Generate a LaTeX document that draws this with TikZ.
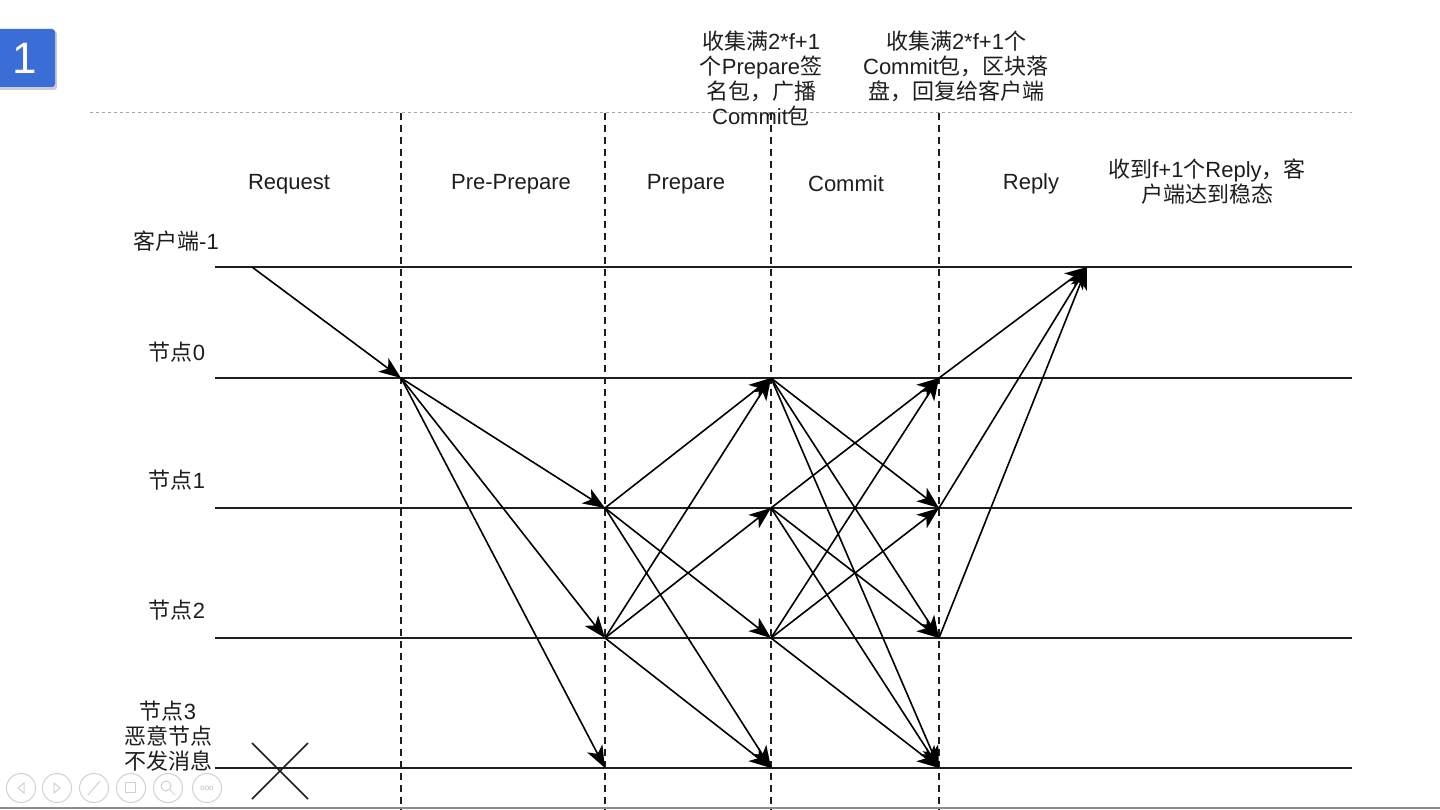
\documentclass[tikz,border=0pt]{standalone}
\usepackage{fontspec}
\setmainfont{Liberation Sans}
\newfontfamily\cjk{Noto Sans CJK SC}
\usetikzlibrary{arrows.meta,calc}
\definecolor{badge}{RGB}{58,110,214}
\definecolor{ink}{RGB}{30,30,30}
\begin{document}
\begin{tikzpicture}[x=1pt,y=-1pt,
  lbl/.style={font=\fontsize{22}{25}\selectfont, text=ink, align=center, inner sep=0pt},
  tline/.style={line width=2pt, draw=ink},
  vdash/.style={line width=1.8pt, draw=ink, dash pattern=on 7pt off 5pt},
  msg/.style={line width=1.6pt, draw=black, -{Stealth[length=22pt,width=17pt,inset=6pt]}},
  tool/.style={draw=black!18, line width=1pt},
]
\useasboundingbox (0,0) rectangle (1440,810);
\fill[white] (0,0) rectangle (1440,810);

% badge
\fill[black!20, rounded corners=3pt] (-5,31) rectangle (57,90);
\fill[badge, rounded corners=3pt] (-5,29) rectangle (55,87);
\node[text=white, font=\fontsize{44}{44}\selectfont, inner sep=0pt] (badgetxt) at (25,58) {1};

% top gray dotted line
\coordinate (gtl) at (90,113);
\coordinate (gtr) at (1352,113);
\draw[black!35, line width=1pt, dash pattern=on 3pt off 3pt] (gtl) -- (gtr);

% vertical dashed lines
\foreach \x/\n in {401/a,605/b,771/c,939/d}{
  \coordinate (v\n t) at (\x,113);
  \coordinate (v\n b) at (\x,810);
  \draw[vdash] (v\n t) -- (v\n b);
}

% horizontal timelines
\foreach \y/\n in {267/c,378/0,508/1,638/2,768/3}{
  \coordinate (h\n s) at (215,\y);
  \coordinate (h\n e) at (1352,\y);
  \draw[tline] (h\n s) -- (h\n e);
}

% phase labels
\node[lbl] (pReq) at (289,184) {Request};
\node[lbl] (pPre) at (511,184) {Pre-Prepare};
\node[lbl] (pPrep) at (686,184) {Prepare};
\node[lbl] (pCom) at (846,184) {Commit};
\node[lbl] (pRep) at (1031,184) {Reply};
\node[lbl] (note3) at (1207,182) {{\cjk 收到}f+1{\cjk 个}Reply{\cjk ，客}\\{\cjk 户端达到稳态}};
\node[lbl] (note1) at (761,78) {{\cjk 收集满}2*f+1\\{\cjk 个}Prepare{\cjk 签}\\{\cjk 名包，广播}\\Commit{\cjk 包}};
\node[lbl] (note2) at (956,66) {{\cjk 收集满}2*f+1{\cjk 个}\\Commit{\cjk 包，区块落}\\{\cjk 盘，回复给客户端}};

% row labels
\node[lbl] (lc) at (176,241) {{\cjk 客户端}-1};
\node[lbl] (l0) at (177,352) {{\cjk 节点}0};
\node[lbl] (l1) at (177,480) {{\cjk 节点}1};
\node[lbl] (l2) at (177,610) {{\cjk 节点}2};
\node[lbl] (l3) at (168,736) {{\cjk 节点}3\\{\cjk 恶意节点}\\{\cjk 不发消息}};

% event points
\coordinate (cs) at (252,267);
\coordinate (cr) at (1087,267);
\coordinate (n01) at (401,378);
\coordinate (n12) at (605,508);
\coordinate (n22) at (605,638);
\coordinate (n32) at (605,768);
\coordinate (n03) at (771,378);
\coordinate (n13) at (771,508);
\coordinate (n23) at (771,638);
\coordinate (n33) at (771,768);
\coordinate (n04) at (939,378);
\coordinate (n14) at (939,508);
\coordinate (n24) at (939,638);
\coordinate (n34) at (939,768);

% request
\draw[msg] (cs) -- (n01);
% pre-prepare
\draw[msg] (n01) -- (n12);
\draw[msg] (n01) -- (n22);
\draw[msg] (n01) -- (n32);
% prepare
\draw[msg] (n12) -- (n03);
\draw[msg] (n12) -- (n23);
\draw[msg] (n12) -- (n33);
\draw[msg] (n22) -- (n03);
\draw[msg] (n22) -- (n13);
\draw[msg] (n22) -- (n33);
% commit
\draw[msg] (n03) -- (n14);
\draw[msg] (n03) -- (n24);
\draw[msg] (n03) -- (n34);
\draw[msg] (n13) -- (n04);
\draw[msg] (n13) -- (n24);
\draw[msg] (n13) -- (n34);
\draw[msg] (n23) -- (n04);
\draw[msg] (n23) -- (n14);
\draw[msg] (n23) -- (n34);
% reply
\draw[msg] (n04) -- (cr);
\draw[msg] (n14) -- (cr);
\draw[msg] (n24) -- (cr);

% cross on node 3
\coordinate (xa) at (252,743);
\coordinate (xb) at (308,799);
\coordinate (xc) at (308,743);
\coordinate (xd) at (252,799);
\draw[line width=1.6pt, ink] (xa) -- (xb);
\draw[line width=1.6pt, ink] (xc) -- (xd);

% toolbar icons (faint)
\foreach \x/\n in {21/t1,57/t2,94/t3,131/t4,168/t5,207/t6}{
  \node[tool, circle, minimum size=29pt, inner sep=0pt] (\n) at (\x,788) {};
}
\draw[tool] ($(t1.center)+(3,-5)$) -- ($(t1.center)+(-3,0)$) -- ($(t1.center)+(3,5)$) -- cycle;
\draw[tool] ($(t2.center)+(-3,-5)$) -- ($(t2.center)+(3,0)$) -- ($(t2.center)+(-3,5)$) -- cycle;
\draw[tool] ($(t3.center)+(-6,7)$) -- ($(t3.center)+(6,-7)$);
\draw[tool] ($(t4.center)+(-6,-6)$) rectangle ($(t4.center)+(4,4)$);
\draw[tool] ($(t5.center)+(-2,-2)$) circle (5);
\draw[tool] ($(t5.center)+(2,2)$) -- ($(t5.center)+(7,7)$);
\node[text=black!25, font=\fontsize{8}{8}\selectfont, inner sep=0pt] (t6txt) at (t6.center) {ooo};

% bottom border
\coordinate (bl) at (0,808);
\coordinate (br) at (1440,808);
\draw[black!45, line width=2pt] (bl) -- (br);
\end{tikzpicture}
\end{document}
